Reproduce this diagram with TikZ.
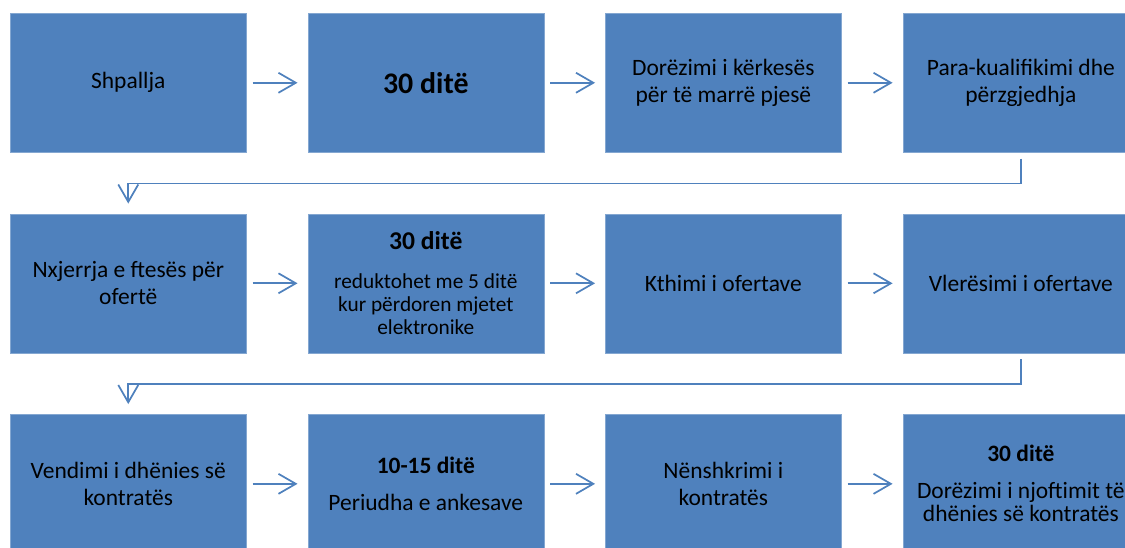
\documentclass[tikz,border=0pt]{standalone}
\usepackage{fontspec}
\setmainfont{Carlito}
\usepackage{tikz}
\usetikzlibrary{arrows.meta,positioning}
\usepackage{xcolor}
\definecolor{stepblue}{RGB}{79,129,189}
\tikzstyle{arrow} = [line width=1.3pt,-{Straight Barb[length=13pt,width=15pt,line width=1.3pt]},color=stepblue]
\tikzstyle{stepbox} = [rectangle, minimum width=177pt, minimum height=104.25pt, align=center, inner sep=0pt, fill=stepblue, draw=stepblue!70!white, line width=0.4pt, text=black, font=\fontsize{17.6pt}{20.25pt}\selectfont]
\newcommand{\bigdays}[1]{{\bfseries\fontsize{22.4pt}{26pt}\selectfont #1}}

\begin{document}
\begin{tikzpicture}[node distance=45.75pt]
\useasboundingbox (0,0) rectangle (843.75pt,-410.25pt);
\clip (0,0) rectangle (843.75pt,-410.25pt);
% Row 1
\node[stepbox, anchor=north west] (b1) at (7.5pt,-9.75pt) {Shpallja};
\node[stepbox, right=of b1] (b2) {\bigdays{30 ditë}};
\node[stepbox, right=of b2] (b3) {Dorëzimi i kërkesës\\për të marrë pjesë};
\node[stepbox, right=of b3] (b4) {Para-kualifikimi dhe\\përzgjedhja};
% Row 2
\node[stepbox, below=of b1] (b5) {Nxjerrja e ftesës për\\ofertë};
\node[stepbox, below=of b2, font=\fontsize{16pt}{17.25pt}\selectfont] (b6) {{\bfseries\fontsize{19.2pt}{23pt}\selectfont 30 ditë}\\[12pt]
reduktohet me 5 ditë\\kur përdoren mjetet\\elektronike};
\node[stepbox, below=of b3] (b7) {Kthimi i ofertave};
\node[stepbox, below=of b4] (b8) {Vlerësimi i ofertave};
% Row 3
\node[stepbox, below=of b5] (b9) {Vendimi i dhënies së\\kontratës};
\node[stepbox, below=of b6] (b10) {{\bfseries 10-15 ditë}\\[7pt]Periudha e ankesave};
\node[stepbox, below=of b7] (b11) {Nënshkrimi i\\kontratës};
\node[stepbox, below=of b8, font=\fontsize{17.6pt}{17.5pt}\selectfont] (b12) {{\bfseries 30 ditë}\\[10pt]Dorëzimi i njoftimit të\\dhënies së kontratës};
% Arrows
\foreach \a/\b in {b1/b2,b2/b3,b3/b4,b5/b6,b6/b7,b7/b8,b9/b10,b10/b11,b11/b12}
  \draw[arrow] ([xshift=4.5pt]\a.east) -- ([xshift=-7.5pt]\b.west);
\draw[arrow] ([yshift=-4.5pt]b4.south) |- ([yshift=22.5pt]b5.north) -- ([yshift=7.5pt]b5.north);
\draw[arrow] ([yshift=-4.5pt]b8.south) |- ([yshift=22.5pt]b9.north) -- ([yshift=7.5pt]b9.north);
\end{tikzpicture}
\end{document}
